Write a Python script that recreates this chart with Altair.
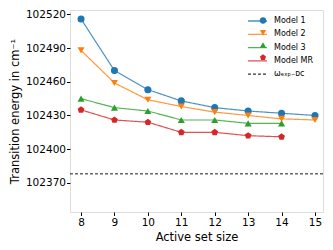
import altair as alt
import pandas as pd

sizes = [8, 9, 10, 11, 12, 13, 14, 15]
model1 = [102516, 102470, 102453, 102443, 102437, 102434, 102432, 102430]
model2 = [102488, 102459, 102444, 102438, 102433, 102430, 102427, 102426]
model3 = [102445, 102437, 102434, 102426, 102426, 102423, 102423]
model_mr = [102435, 102426, 102424, 102415, 102415, 102412, 102411]
omega_exp = 102378
y_ticks = [102370, 102400, 102430, 102460, 102490, 102520]

names = ["Model 1", "Model 2", "Model 3", "Model MR"]
omega_label = "ωₑₓₚ₋ᴅᴄ"
colors = ["#1f77b4", "#ff7f0e", "#2ca02c", "#d62728"]
pentagon = "M0,-1L0.951,-0.309L0.588,0.809L-0.588,0.809L-0.951,-0.309Z"
shapes = ["circle", "triangle-down", "triangle-up", pentagon]

rows = []
for name, vals in zip(names, [model1, model2, model3, model_mr]):
    for s, v in zip(sizes, vals):
        rows.append({"size": s, "energy": v, "series": name})
df = pd.DataFrame(rows)
df_ref = pd.DataFrame({"energy": [omega_exp], "series": [omega_label]})

font = "DejaVu Sans"
xs = alt.Scale(domain=[7.67, 15.24], nice=False, zero=False)
ys = alt.Scale(domain=[102344, 102524], nice=False, zero=False)

stroke_scale = alt.Scale(domain=names + [omega_label], range=colors + ["#000000"])
dash_scale = alt.Scale(domain=names + [omega_label], range=[[1, 0]] * 4 + [[3, 2]])

stroke_legend = alt.Legend(orient="none", legendX=183, legendY=6.5, title=None,
                           symbolType="M-2.5,0H2.5", symbolSize=58, symbolStrokeWidth=1.3,
                           labelFont=font, labelFontSize=8, labelColor="black",
                           rowPadding=4.3, padding=0, labelOffset=12)
fill_legend = alt.Legend(orient="none", legendX=189, legendY=6.5, title=None,
                         symbolSize=40, labelExpr="''", symbolStrokeWidth=0,
                         labelFontSize=8, rowPadding=4.3, padding=0)

x_axis = alt.Axis(values=sizes, title="Active set size", labelFont=font, titleFont=font,
                  labelFontSize=10.5, titleFontSize=11.5, titleFontWeight="normal",
                  tickSize=3.5, labelPadding=2, titlePadding=3, grid=False, labelOverlap=False,
                  tickCount=8, format="d",
                  domain=False, tickColor="black", labelColor="black", titleColor="black")
y_axis = alt.Axis(values=y_ticks, title="Transition energy in cm⁻¹", labelFont=font, titleFont=font,
                  labelFontSize=10.5, titleFontSize=11.5, titleFontWeight="normal",
                  tickSize=3.5, labelPadding=1, titlePadding=5, grid=False, format="d",
                  labelOverlap=False,
                  domain=False, tickColor="black", labelColor="black", titleColor="black")

X = alt.X("size:Q", scale=xs, axis=x_axis)
Y = alt.Y("energy:Q", scale=ys, axis=y_axis)

lines = alt.Chart(df).mark_line(strokeWidth=1.2, opacity=0.8).encode(
    x=X,
    y=Y,
    stroke=alt.Stroke("series:N", scale=stroke_scale, legend=stroke_legend),
    strokeDash=alt.StrokeDash("series:N", scale=dash_scale, legend=stroke_legend),
    detail="series:N",
)

rule = alt.Chart(df_ref).mark_rule(strokeWidth=0.9).encode(
    y=Y,
    stroke=alt.Stroke("series:N", scale=stroke_scale, legend=stroke_legend),
    strokeDash=alt.StrokeDash("series:N", scale=dash_scale, legend=stroke_legend),
)

points = alt.Chart(df).mark_point(filled=True, size=50, opacity=1).encode(
    x=X,
    y=Y,
    fill=alt.Fill("series:N", scale=alt.Scale(domain=names, range=colors), legend=fill_legend),
    shape=alt.Shape("series:N", scale=alt.Scale(domain=names, range=shapes), legend=fill_legend),
)

chart = alt.layer(lines, points, rule).properties(
    width=253, height=202,
    autosize=alt.AutoSizeParams(type="none"),
    padding={"left": 62, "top": 2, "right": 2, "bottom": 30},
).configure_view(stroke="#333333", strokeWidth=1).configure(background="white")

chart.save("out.html", embed_options={"renderer": "svg", "actions": False})
